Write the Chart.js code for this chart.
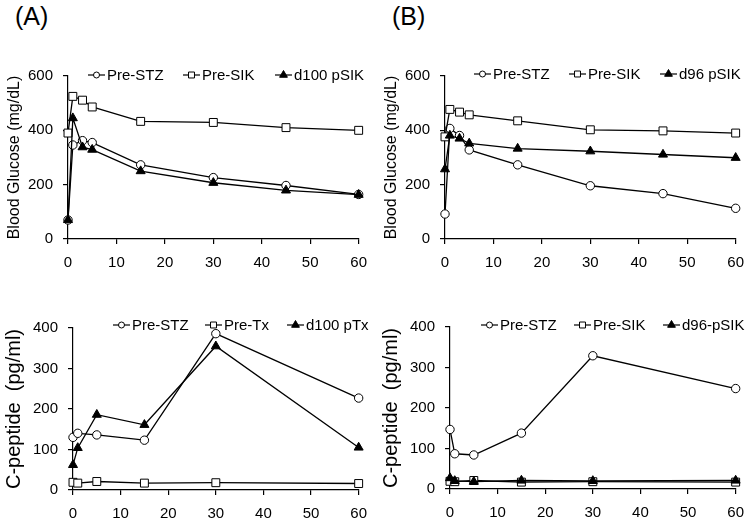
<!DOCTYPE html>
<html>
<head>
<meta charset="utf-8">
<script src="https://cdn.jsdelivr.net/npm/chart.js@4.4.0/dist/chart.umd.min.js"></script>
<style>
    body { margin: 0; background: #fff; }
    #wrap { position: relative; width: 754px; height: 525px; overflow: hidden; }
    .panel { position: absolute; }
    .tag { position: absolute; font: 25px 'Liberation Sans', Arial, sans-serif; line-height: 25px; color: #000; }
</style>
</head>
<body>
<div id="wrap">
    <div class="tag" style="left:15px; top:4px">(A)</div>
    <div class="tag" style="left:392px; top:4px">(B)</div>
    <div class="panel" style="left:0; top:0; width:377px; height:270px"><canvas id="gluA"></canvas></div>
    <div class="panel" style="left:377px; top:0; width:377px; height:270px"><canvas id="gluB"></canvas></div>
    <div class="panel" style="left:0; top:270px; width:377px; height:255px"><canvas id="cpA"></canvas></div>
    <div class="panel" style="left:377px; top:270px; width:377px; height:255px"><canvas id="cpB"></canvas></div>
</div>
<script>
// Time points (min)
const glucoseTimes = [0, 1, 3, 5, 15, 30, 45, 60];
const cpeptideTimes = [0, 1, 5, 15, 30, 60];

// Blood glucose (mg/dL)
const gluA_preSTZ = [70, 346, 362, 355, 273, 226, 197, 164];
const gluA_preSIK = [390, 525, 511, 486, 433, 429, 410, 400];
const gluA_d100 = [70, 445, 338, 329, 250, 207, 179, 163];
const gluB_preSTZ = [92, 407, 381, 328, 273, 196, 167, 113];
const gluB_preSIK = [376, 477, 467, 457, 435, 402, 398, 390];
const gluB_d96 = [257, 381, 370, 352, 333, 323, 311, 299];

// C-peptide (pg/ml)
const cpA_preSTZ = [130, 140, 136, 123, 386, 227];
const cpA_preTx = [19, 17, 21, 17, 18, 16];
const cpA_d100 = [62, 104, 186, 161, 355, 105];
const cpB_preSTZ = [147, 87, 84, 138, 329, 248];
const cpB_preSIK = [19, 18, 21, 17, 18, 17];
const cpB_d96 = [27, 20, 18, 21, 20, 21];

// Tick labels
const timeTicks = [0, 10, 20, 30, 40, 50, 60];
const glucoseTicks = [0, 200, 400, 600];
const cpeptideTicks = [0, 100, 200, 300, 400];

const FONT = "'Liberation Sans', Arial, sans-serif";

// marker looks: open circle, open square, filled triangle
const markers = [
    { pointStyle: 'circle', radius: 4.2, legendRadius: 3, fill: '#fff' },
    { pointStyle: 'rect', radius: 5.6, legendRadius: 4.2, fill: '#fff' },
    { pointStyle: 'triangle', radius: 5.2, legendRadius: 4.5, fill: '#000' }
];

function drawMarker(ctx, style, r, x, y) {
    ctx.beginPath();
    if (style === 'circle') {
        ctx.arc(x, y, r, 0, Math.PI * 2);
    } else if (style === 'rect') {
        const s = r * Math.SQRT1_2;
        ctx.rect(x - s, y - s, 2 * s, 2 * s);
    } else {
        ctx.moveTo(x, y - r);
        ctx.lineTo(x + r * 0.866, y + r / 2);
        ctx.lineTo(x - r * 0.866, y + r / 2);
        ctx.closePath();
    }
    ctx.fill();
    ctx.stroke();
}

// Legend drawn inside the plot, line through marker
const insideLegend = {
    id: 'insideLegend',
    afterDraw(chart, args, opts) {
        const ctx = chart.ctx;
        ctx.save();
        ctx.font = '15px ' + FONT;
        ctx.textBaseline = 'middle';
        chart.data.datasets.forEach((ds, i) => {
            const x = opts.starts[i], y = opts.y;
            const m = markers[i];
            ctx.strokeStyle = '#000';
            ctx.lineWidth = 1.2;
            ctx.beginPath();
            ctx.moveTo(x, y);
            ctx.lineTo(x + 17, y);
            ctx.stroke();
            ctx.lineWidth = 1;
            ctx.fillStyle = m.fill;
            drawMarker(ctx, m.pointStyle, m.legendRadius, x + 8.5, y);
            ctx.fillStyle = '#000';
            ctx.fillText(ds.label, x + 19, y + 1);
        });
        ctx.restore();
    }
};

function makeSeries(labels, times, values) {
    return values.map((vals, i) => ({
        label: labels[i],
        data: vals.map((v, k) => ({ x: times[k], y: v })),
        // later series painted on top
        order: values.length - i,
        borderColor: '#000',
        borderWidth: 1.3,
        pointStyle: markers[i].pointStyle,
        pointRadius: markers[i].radius,
        pointBackgroundColor: markers[i].fill,
        pointBorderColor: '#000',
        pointBorderWidth: 1,
        clip: false,
        tension: 0
    }));
}

function makeChart(id, cfg) {
    const axisGrid = { display: true, drawOnChartArea: false, drawTicks: true, tickLength: 5, color: '#000', lineWidth: 1.2 };
    return new Chart(document.getElementById(id), {
        type: 'line',
        data: { datasets: makeSeries(cfg.labels, cfg.times, cfg.values) },
        options: {
            responsive: true,
            maintainAspectRatio: false,
            animation: false,
            events: [],
            layout: { padding: { top: cfg.top, right: cfg.right, left: 0, bottom: 0 } },
            plugins: {
                legend: { display: false },
                tooltip: { enabled: false },
                insideLegend: { starts: cfg.legendStarts, y: cfg.legendY }
            },
            scales: {
                x: {
                    type: 'linear',
                    min: 0,
                    max: 60,
                    afterBuildTicks: scale => { scale.ticks = timeTicks.map(v => ({ value: v })); },
                    afterFit: scale => { scale.height = cfg.xHeight; },
                    grid: axisGrid,
                    border: { display: true, color: '#000', width: 1.2 },
                    ticks: { color: '#000', font: { size: 15, family: FONT }, padding: 10, maxRotation: 0 }
                },
                y: {
                    min: 0,
                    max: cfg.yMax,
                    afterBuildTicks: scale => { scale.ticks = cfg.yTicks.map(v => ({ value: v })); },
                    afterFit: scale => { scale.width = cfg.yWidth; },
                    grid: axisGrid,
                    border: { display: true, color: '#000', width: 1.2 },
                    ticks: { color: '#000', font: { size: 15, family: FONT }, padding: 10 },
                    title: {
                        display: true,
                        text: cfg.yTitle,
                        color: '#000',
                        font: { size: cfg.yTitleSize, family: FONT },
                        padding: { top: cfg.yTitlePad, bottom: 0 }
                    }
                }
            }
        },
        plugins: [insideLegend]
    });
}

makeChart('gluA', {
    labels: ['Pre-STZ', 'Pre-SIK', 'd100 pSIK'],
    times: glucoseTimes,
    values: [gluA_preSTZ, gluA_preSIK, gluA_d100],
    yMax: 600, yTicks: glucoseTicks,
    yTitle: 'Blood Glucose (mg/dL)', yTitleSize: 16, yTitlePad: 5,
    top: 76, right: 15, yWidth: 68, xHeight: 31,
    legendStarts: [88, 183, 275], legendY: 75
});

makeChart('gluB', {
    labels: ['Pre-STZ', 'Pre-SIK', 'd96 pSIK'],
    times: glucoseTimes,
    values: [gluB_preSTZ, gluB_preSIK, gluB_d96],
    yMax: 600, yTicks: glucoseTicks,
    yTitle: 'Blood Glucose (mg/dL)', yTitleSize: 16, yTitlePad: 5,
    top: 76, right: 15, yWidth: 68, xHeight: 31,
    legendStarts: [97, 192, 283], legendY: 74
});

makeChart('cpA', {
    labels: ['Pre-STZ', 'Pre-Tx', 'd100 pTx'],
    times: cpeptideTimes,
    values: [cpA_preSTZ, cpA_preTx, cpA_d100],
    yMax: 400, yTicks: cpeptideTicks,
    yTitle: 'C-peptide  (pg/ml)', yTitleSize: 20, yTitlePad: 2,
    top: 58, right: 15, yWidth: 73, xHeight: 35,
    legendStarts: [113, 205, 287], legendY: 55
});

makeChart('cpB', {
    labels: ['Pre-STZ', 'Pre-SIK', 'd96-pSIK'],
    times: cpeptideTimes,
    values: [cpB_preSTZ, cpB_preSIK, cpB_d96],
    yMax: 400, yTicks: cpeptideTicks,
    yTitle: 'C-peptide  (pg/ml)', yTitleSize: 20, yTitlePad: 2,
    top: 57, right: 15, yWidth: 73, xHeight: 36,
    legendStarts: [104, 197, 286], legendY: 55
});
</script>
</body>
</html>
